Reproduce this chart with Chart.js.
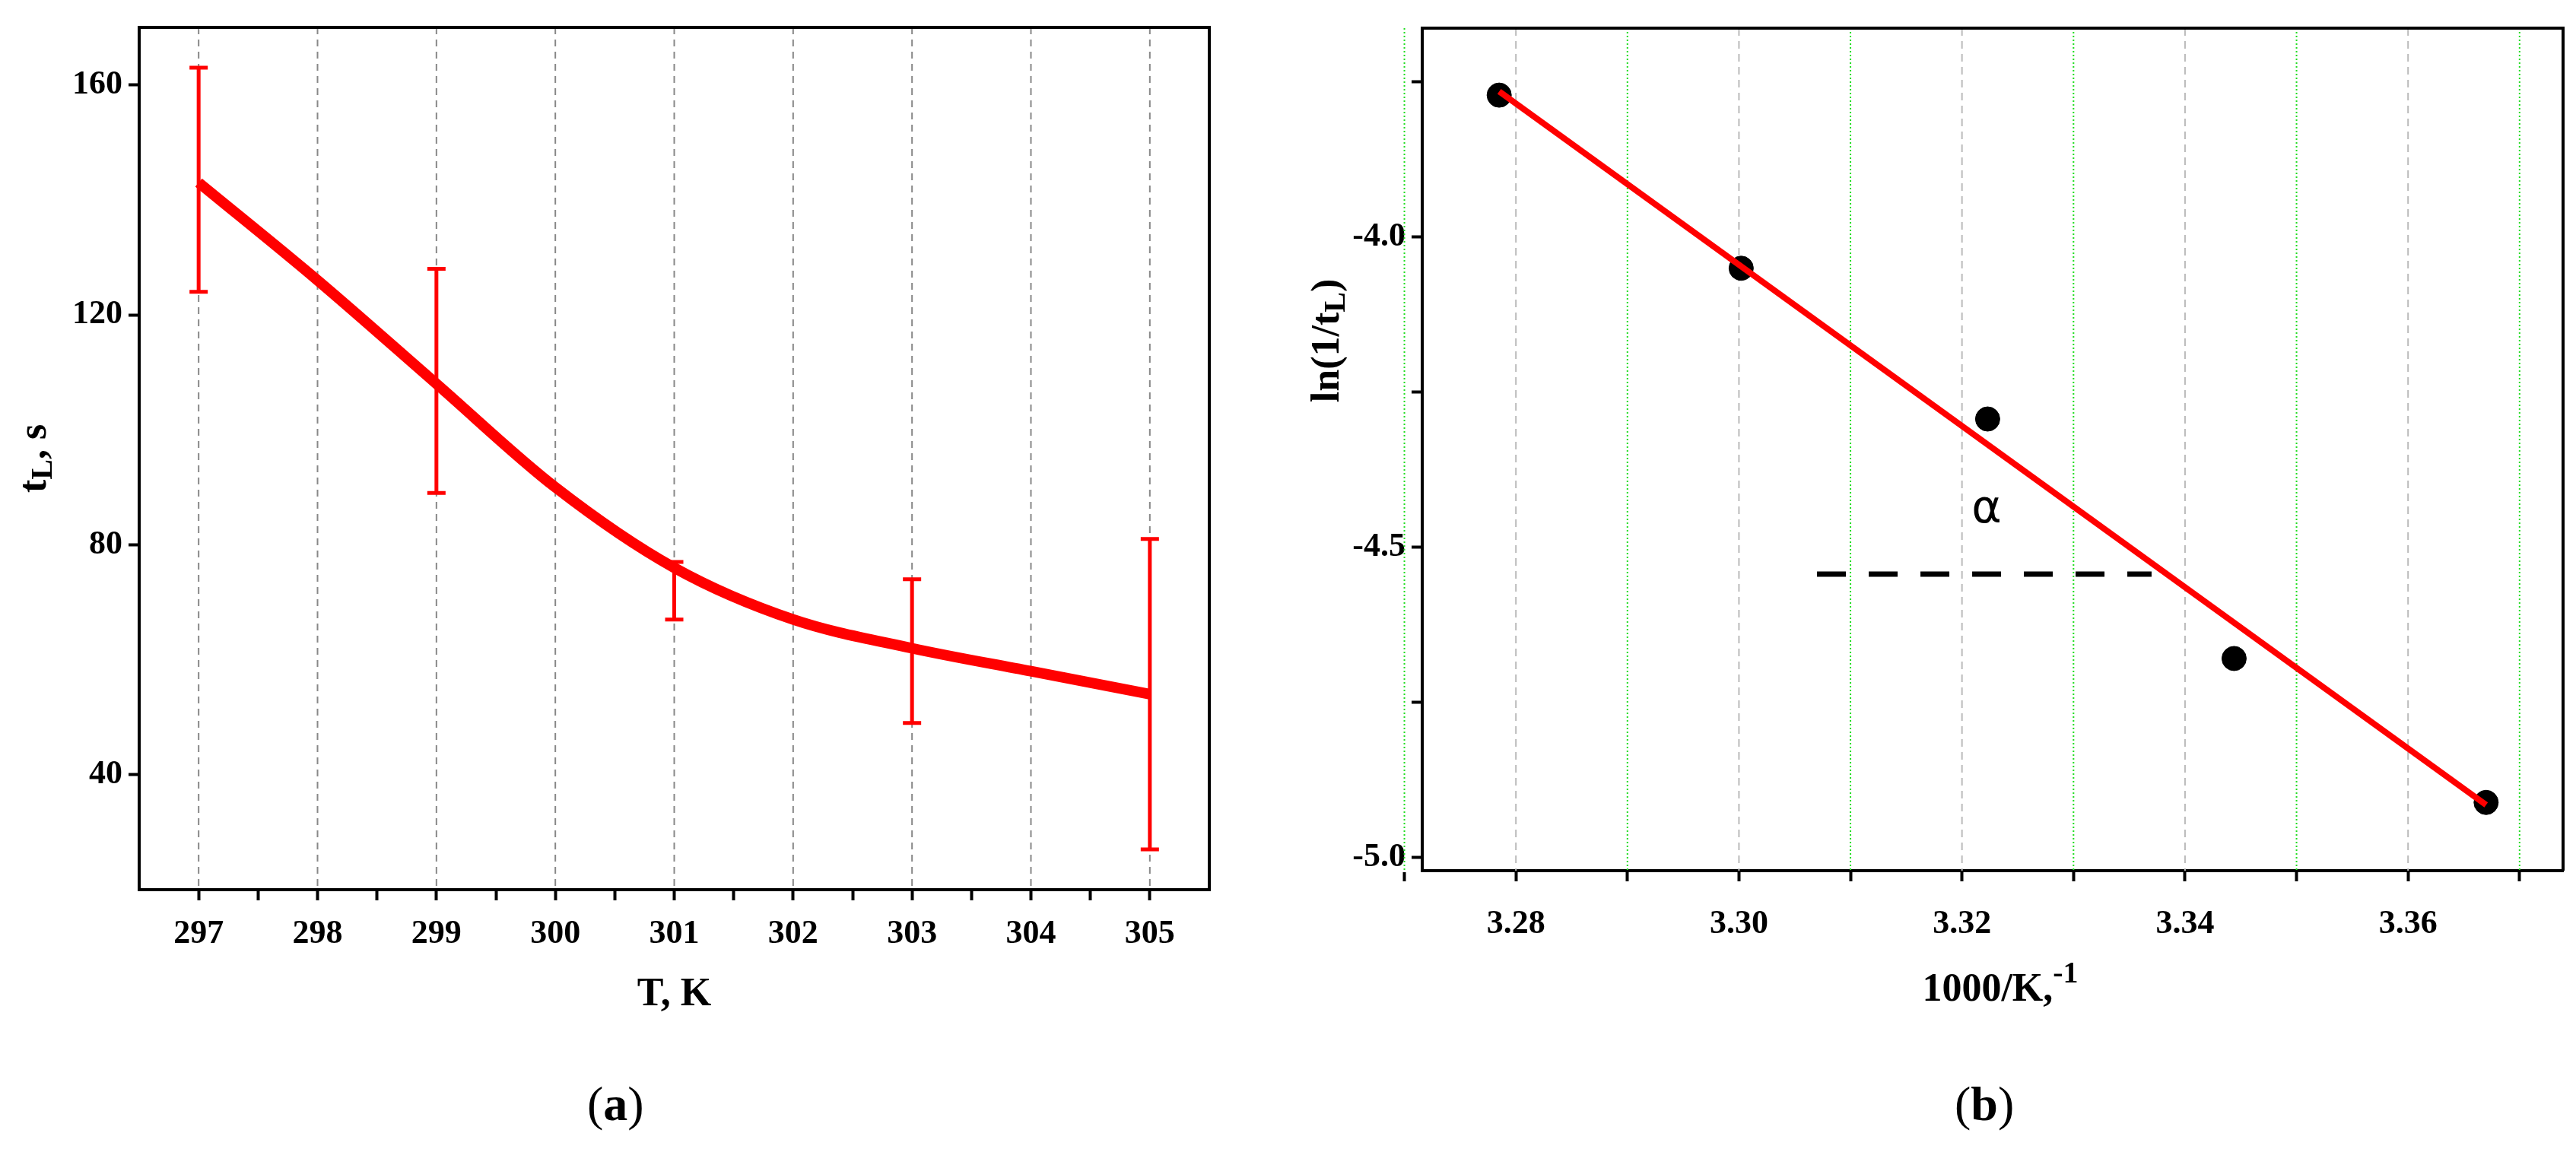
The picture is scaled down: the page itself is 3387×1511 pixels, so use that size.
<!DOCTYPE html>
<html>
<head>
<meta charset="utf-8">
<script src="https://cdn.jsdelivr.net/npm/chart.js@4.4.0/dist/chart.umd.min.js"></script>
<style>
  body { margin: 0; background: #fff; width: 3387px; height: 1511px; position: relative; overflow: hidden; }
  canvas { position: absolute; top: 0; }
  .cap { position: absolute; top: 1415px; font: 64px "Liberation Serif", serif; color: #000; }
</style>
</head>
<body>
<canvas id="graphA" style="left:0px"></canvas>
<canvas id="graphB" style="left:1700px"></canvas>
<div class="cap" style="left:772px">(<b>a</b>)</div>
<div class="cap" style="left:2570px">(<b>b</b>)</div>
<script>
// Panneau (a) : temps de latence en fonction de la température
const A_temp = [297, 298, 299, 300, 301, 302, 303, 304, 305];
const A_tL = [143, 126, 108, 90, 76, 67, 62, 58, 54];
const A_errT = [297, 299, 301, 303, 305];
const A_errLow = [124, 89, 67, 49, 27];
const A_errHigh = [163, 128, 77, 74, 81];
const A_ticksA_y = [40, 80, 120, 160];

// Panneau (b) : ln(1/tL) en fonction de 1000/T
const A_invT = [3.2785, 3.3002, 3.3223, 3.3444, 3.3670];
const A_lnInv = [-3.771, -4.05, -4.293, -4.679, -4.911];
const A_fitX = [3.2785, 3.3670];
const A_fitY = [-3.765, -4.915];
const A_alphaX = [3.307, 3.337];
const A_alphaY = [-4.543, -4.543];
const A_ticksB_x = [3.27, 3.28, 3.29, 3.30, 3.31, 3.32, 3.33, 3.34, 3.35, 3.36, 3.37];
const A_ticksB_y = [-5.0, -4.75, -4.5, -4.25, -4.0, -3.75];

const S_font = '"Liberation Serif", "DejaVu Serif", serif';
const O_tickFont = { family: S_font, size: 44, weight: 'bold' };

// Texte avec indice (ex. t_L)
function F_drawRich(ctx, A_parts, x, y, rot) {
  ctx.save();
  ctx.translate(x, y);
  ctx.rotate(rot);
  ctx.fillStyle = '#000';
  ctx.textBaseline = 'alphabetic';
  let I_w = 0;
  A_parts.forEach((p) => { ctx.font = 'bold ' + p.s + 'px ' + S_font; I_w += ctx.measureText(p.t).width; });
  let I_x = -I_w / 2;
  A_parts.forEach((p) => {
    ctx.font = 'bold ' + p.s + 'px ' + S_font;
    ctx.fillText(p.t, I_x, 16 + (p.dy || 0));
    I_x += ctx.measureText(p.t).width;
  });
  ctx.restore();
}

function F_tickOpts(A_vals, F_label) {
  return {
    afterBuildTicks: (s) => { s.ticks = A_vals.map((v) => ({ value: v })); },
    ticks: { autoSkip: false, maxRotation: 0, color: '#000', font: O_tickFont, callback: F_label },
    grid: { drawOnChartArea: false, tickColor: '#000', tickWidth: 4, tickLength: 14 },
    border: { color: '#000', width: 4 },
  };
}

const O_plugA = {
  id: 'decorA',
  beforeDatasetsDraw(chart) {
    const { ctx, chartArea: a, scales: { x, y } } = chart;
    ctx.save();
    ctx.strokeStyle = '#888';
    ctx.lineWidth = 2;
    ctx.setLineDash([9, 7]);
    A_temp.forEach((v) => {
      const px = x.getPixelForValue(v);
      ctx.beginPath(); ctx.moveTo(px, a.top); ctx.lineTo(px, a.bottom); ctx.stroke();
    });
    ctx.restore();
  },
  afterDatasetsDraw(chart) {
    const { ctx, chartArea: a, scales: { x, y } } = chart;
    ctx.save();
    ctx.strokeStyle = '#ff0000';
    ctx.lineWidth = 5;
    A_errT.forEach((t, i) => {
      const px = x.getPixelForValue(t);
      const y1 = y.getPixelForValue(A_errLow[i]);
      const y2 = y.getPixelForValue(A_errHigh[i]);
      ctx.beginPath();
      ctx.moveTo(px, y1); ctx.lineTo(px, y2);
      ctx.moveTo(px - 12, y1); ctx.lineTo(px + 12, y1);
      ctx.moveTo(px - 12, y2); ctx.lineTo(px + 12, y2);
      ctx.stroke();
    });
    ctx.strokeStyle = '#000';
    ctx.lineWidth = 4;
    ctx.strokeRect(a.left, a.top, a.right - a.left, a.bottom - a.top);
    ctx.restore();
    F_drawRich(ctx, [{ t: 't', s: 52 }, { t: 'L', s: 40, dy: 8 }, { t: ', s', s: 52 }], 44, (a.top + a.bottom) / 2, -Math.PI / 2);
    F_drawRich(ctx, [{ t: 'T, K', s: 52 }], (a.left + a.right) / 2, 1306, 0);
  },
};

const O_plugB = {
  id: 'decorB',
  beforeDatasetsDraw(chart) {
    const { ctx, chartArea: a, scales: { x } } = chart;
    ctx.save();
    ctx.lineWidth = 2;
    A_ticksB_x.forEach((v, i) => {
      const px = x.getPixelForValue(v);
      const B_major = Math.round(v * 100) % 2 === 0;
      ctx.strokeStyle = B_major ? '#bbbbbb' : '#22dd22';
      ctx.setLineDash(B_major ? [10, 7] : [2, 3]);
      ctx.beginPath(); ctx.moveTo(px, a.top); ctx.lineTo(px, a.bottom); ctx.stroke();
    });
    ctx.restore();
  },
  afterDatasetsDraw(chart) {
    const { ctx, chartArea: a, scales: { x, y } } = chart;
    ctx.save();
    ctx.fillStyle = '#000';
    ctx.font = '60px "DejaVu Sans", sans-serif';
    ctx.textAlign = 'center';
    ctx.fillText('α', x.getPixelForValue(3.3222), y.getPixelForValue(-4.46));
    ctx.strokeStyle = '#000';
    ctx.lineWidth = 4;
    ctx.beginPath();
    ctx.moveTo(a.left, a.top); ctx.lineTo(a.right, a.top); ctx.lineTo(a.right, a.bottom);
    ctx.stroke();
    ctx.restore();
    F_drawRich(ctx, [{ t: 'ln(1/t', s: 52 }, { t: 'L', s: 40, dy: 8 }, { t: ')', s: 52 }], 44, 448, -Math.PI / 2);
    F_drawRich(ctx, [{ t: '1000/K,', s: 52 }, { t: '-1', s: 40, dy: -24 }], 930, 1300, 0);
  },
};

function F_sizeCanvas(S_id, I_w) {
  const O_c = document.getElementById(S_id);
  O_c.width = I_w; O_c.height = 1511;
  O_c.style.width = I_w + 'px'; O_c.style.height = '1511px';
  return O_c.getContext('2d');
}

const O_xA = F_tickOpts([297, 297.5, 298, 298.5, 299, 299.5, 300, 300.5, 301, 301.5, 302, 302.5, 303, 303.5, 304, 304.5, 305],
  (v) => (Number.isInteger(v) ? String(v) : ''));
O_xA.type = 'linear'; O_xA.min = 296.5; O_xA.max = 305.5;
O_xA.ticks.padding = 18;
O_xA.afterFit = (s) => { s.height = 200; };
const O_yA = F_tickOpts(A_ticksA_y, (v) => String(v));
O_yA.min = 20; O_yA.max = 170;
O_yA.ticks.padding = 8;
O_yA.afterFit = (s) => { s.width = 183; };

new Chart(F_sizeCanvas('graphA', 1700), {
  type: 'line',
  data: {
    datasets: [{
      data: A_temp.map((t, i) => ({ x: t, y: A_tL[i] })),
      borderColor: '#ff0000',
      borderWidth: 14,
      cubicInterpolationMode: 'monotone',
      pointRadius: 0,
      fill: false,
    }],
  },
  options: {
    responsive: false,
    animation: false,
    layout: { padding: { top: 36, right: 110, bottom: 141, left: 0 } },
    plugins: { legend: { display: false }, tooltip: { enabled: false } },
    scales: { x: O_xA, y: O_yA },
  },
  plugins: [O_plugA],
});

const O_xB = F_tickOpts(A_ticksB_x, (v) => (Math.round(v * 100) % 2 === 0 ? v.toFixed(2) : ''));
O_xB.type = 'linear'; O_xB.min = 3.2716; O_xB.max = 3.3739;
O_xB.ticks.padding = 30;
O_xB.afterFit = (s) => { s.height = 220; };
const O_yB = F_tickOpts(A_ticksB_y, (v) => (Math.round(v * 100) % 50 === 0 ? v.toFixed(1) : ''));
O_yB.min = -5.021; O_yB.max = -3.663;
O_yB.ticks.padding = 8;
O_yB.afterFit = (s) => { s.width = 170; };

new Chart(F_sizeCanvas('graphB', 1687), {
  type: 'scatter',
  data: {
    datasets: [
      {
        data: A_invT.map((v, i) => ({ x: v, y: A_lnInv[i] })),
        pointRadius: 16,
        pointBackgroundColor: '#000',
        pointBorderColor: '#000',
        order: 2,
      },
      {
        type: 'line',
        data: A_fitX.map((v, i) => ({ x: v, y: A_fitY[i] })),
        borderColor: '#ff0000',
        borderWidth: 8,
        pointRadius: 0,
        order: 1,
      },
      {
        type: 'line',
        data: A_alphaX.map((v, i) => ({ x: v, y: A_alphaY[i] })),
        borderColor: '#000',
        borderWidth: 7,
        borderDash: [38, 30],
        pointRadius: 0,
        order: 3,
      },
    ],
  },
  options: {
    responsive: false,
    animation: false,
    layout: { padding: { top: 37, right: 4, bottom: 146, left: 0 } },
    plugins: { legend: { display: false }, tooltip: { enabled: false } },
    scales: { x: O_xB, y: O_yB },
  },
  plugins: [O_plugB],
});
</script>
</body>
</html>
